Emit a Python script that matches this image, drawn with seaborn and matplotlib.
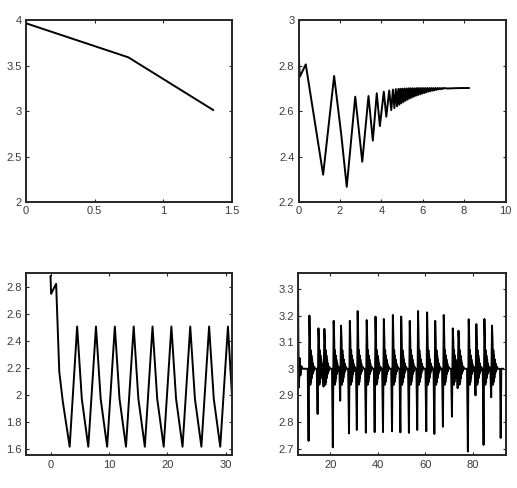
import numpy as np
import pandas as pd
import matplotlib
matplotlib.use("Agg")
import matplotlib.pyplot as plt
from matplotlib.ticker import FormatStrFormatter
import seaborn as sns

# --- top left: three-point curve
tl_x = [0.0, 0.745, 1.364]
tl_y = [3.964, 3.59, 3.01]

# --- top right: damped zigzag converging to 2.7
tr_x = [0.0, 0.06, 0.35, 1.19, 1.72, 2.06, 2.33, 2.74, 3.08, 3.38, 3.59, 3.78, 3.93,
        4.12, 4.24, 4.38, 4.48, 4.56, 4.63, 4.70, 4.76, 4.82, 4.87, 4.92, 4.97,
        5.02, 5.07, 5.12, 5.17, 5.22, 5.27, 5.32, 5.37, 5.42, 5.47, 5.52, 5.57,
        5.62, 5.67, 5.72, 5.77, 5.82, 5.87, 5.92, 5.97, 6.02, 6.07, 6.12, 6.17,
        6.22, 6.27, 6.32, 6.37, 6.42, 6.47, 6.52, 6.57, 6.62, 6.67, 6.72, 6.77,
        6.82, 6.87, 6.92, 6.97, 7.02, 7.2, 7.45, 7.8, 8.24]
tr_y = [2.877, 2.75, 2.805, 2.32, 2.754, 2.50, 2.267, 2.663, 2.377, 2.666, 2.47, 2.678, 2.534,
        2.685, 2.575, 2.69, 2.604, 2.694, 2.613, 2.696, 2.621, 2.697, 2.628, 2.698, 2.634,
        2.698, 2.640, 2.699, 2.645, 2.699, 2.650, 2.700, 2.655, 2.700, 2.659, 2.700, 2.663,
        2.700, 2.667, 2.701, 2.670, 2.701, 2.673, 2.701, 2.676, 2.701, 2.679, 2.701, 2.682,
        2.701, 2.685, 2.701, 2.687, 2.701, 2.689, 2.701, 2.691, 2.701, 2.693, 2.701, 2.695,
        2.701, 2.696, 2.701, 2.697, 2.701, 2.699, 2.700, 2.701, 2.701]

# --- bottom left: sawtooth oscillation
bl_x = [0.0, 0.1, 0.96, 1.5, 2.1, 3.28, 4.56, 5.36, 6.47, 7.79, 8.59, 9.70, 11.02, 11.82,
        12.93, 14.25, 15.05, 16.16, 17.48, 18.28, 19.39, 20.71, 21.51, 22.62, 23.94,
        24.74, 25.85, 27.17, 27.97, 29.08, 30.40, 31.10]
bl_y = [2.879, 2.746, 2.82, 2.17, 1.95, 1.615, 2.504, 1.97, 1.615, 2.504, 1.97, 1.615, 2.504, 1.97,
        1.615, 2.504, 1.97, 1.615, 2.504, 1.97, 1.615, 2.504, 1.97, 1.615, 2.504,
        1.97, 1.615, 2.504, 1.97, 1.615, 2.504, 1.985]

# --- bottom right: spikes around 3.0
br_pos = [11.3, 15.1, 17.6, 21.5, 24.6, 28.3, 31.6, 35.4, 39.1, 42.6, 46.4, 49.9,
          53.5, 57.0, 60.8, 64.2, 67.8, 71.6, 74.0, 78.3, 81.5, 84.9, 88.1]
br_peak = [3.200, 3.152, 3.150, 3.180, 3.162, 3.180, 3.217, 3.183, 3.196, 3.187, 3.202, 3.196,
           3.180, 3.217, 3.212, 3.180, 3.202, 3.152, 3.143, 3.186, 3.168, 3.187, 3.162]
br_trough = [2.729, 2.830, 2.933, 2.705, 2.880, 2.757, 2.770, 2.760, 2.762, 2.762, 2.765, 2.761,
             2.759, 2.770, 2.765, 2.755, 2.782, 2.820, 2.927, 2.689, 2.900, 2.714, 2.893]
# ringing after each spike (offset from spike, value)
ring_dx = [0.15, 0.3, 0.45, 0.6, 0.75, 0.9, 1.05, 1.2, 1.4, 1.6, 1.9, 2.3]
ring_y = [3.10, 2.94, 3.07, 2.95, 3.05, 2.965, 3.035, 2.98, 3.02, 2.99, 3.008, 3.0]
br_start_x = [6.4, 6.55, 6.8, 7.1, 7.4, 7.8, 8.3]
br_start_y = [3.36, 3.10, 2.93, 3.04, 2.975, 3.01, 3.0]
br_end_x = [91.4, 91.65, 91.9, 92.8]
br_end_y = [3.0, 2.74, 3.0, 3.0]

br_x = list(br_start_x)
br_y = list(br_start_y)
for s, p, t in zip(br_pos, br_peak, br_trough):
    br_x += [s - 0.8, s - 0.45, s - 0.1] + [s + d for d in ring_dx]
    br_y += [3.0, t, p] + ring_y
br_x += br_end_x
br_y += br_end_y

sns.set_style("ticks")
plt.rcParams['font.family'] = ['Liberation Sans', 'DejaVu Sans']

fig = plt.figure(figsize=(5.17, 4.88), dpi=100)
pos = [
    [0.0503, 0.586, 0.3985, 0.373],
    [0.5774, 0.586, 0.4004, 0.373],
    [0.0503, 0.0666, 0.3985, 0.374],
    [0.5764, 0.0666, 0.4024, 0.374],
]
axes = [fig.add_axes(p) for p in pos]

panels = [
    (tl_x, tl_y, (0, 1.5), (2, 4), [0, 0.5, 1, 1.5], [2, 2.5, 3, 3.5, 4]),
    (tr_x, tr_y, (0, 10), (2.2, 3), [0, 2, 4, 6, 8, 10], [2.2, 2.4, 2.6, 2.8, 3]),
    (bl_x, bl_y, (-4.2, 31.1), (1.55, 2.9), [0, 10, 20, 30],
     [1.6, 1.8, 2, 2.2, 2.4, 2.6, 2.8]),
    (br_x, br_y, (6.4, 93.9), (2.674, 3.36), [20, 40, 60, 80],
     [2.7, 2.8, 2.9, 3, 3.1, 3.2, 3.3]),
]

for ax, (x, y, xl, yl, xt, yt) in zip(axes, panels):
    df = pd.DataFrame({"x": x, "y": y})
    sns.lineplot(data=df, x="x", y="y", ax=ax, color="black", lw=1.4,
                 sort=False, estimator=None)
    ax.set_xlim(*xl)
    ax.set_ylim(*yl)
    ax.set_xticks(xt)
    ax.set_yticks(yt)
    ax.xaxis.set_major_formatter(FormatStrFormatter('%g'))
    ax.yaxis.set_major_formatter(FormatStrFormatter('%g'))
    ax.set_xlabel("")
    ax.set_ylabel("")
    for sp in ax.spines.values():
        sp.set_visible(True)
        sp.set_linewidth(1.4)
        sp.set_color("#262626")
    ax.tick_params(direction="in", top=True, right=True, length=2.5, width=0.8,
                   color="#262626", labelsize=8, labelcolor="#3a3a3a", pad=3)

fig.savefig("out.png", dpi=100)
